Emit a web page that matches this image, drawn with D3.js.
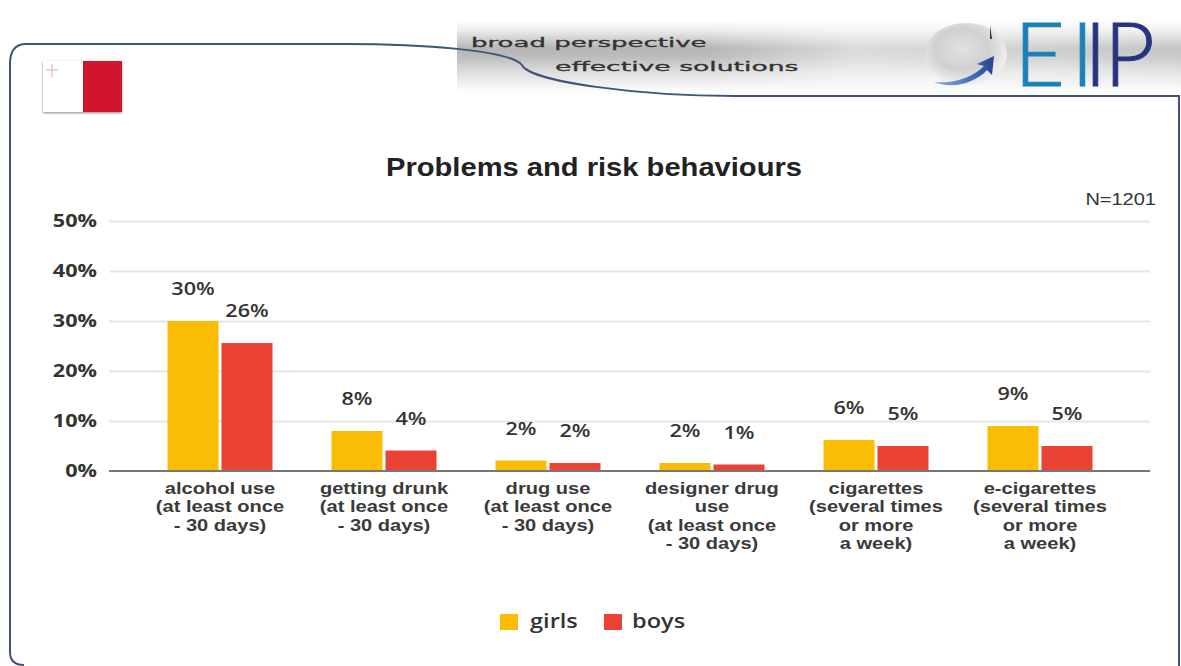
<!DOCTYPE html>
<html><head><meta charset="utf-8">
<script src="https://cdn.jsdelivr.net/npm/d3@7/dist/d3.min.js"></script>
<style>
html,body{margin:0;padding:0;background:#fff;}
svg{display:block;}
</style></head><body>
<svg id="c" width="1181" height="666"></svg>
<script>
const categories = [
  ["alcohol use","(at least once","- 30 days)"],
  ["getting drunk","(at least once","- 30 days)"],
  ["drug use","(at least once","- 30 days)"],
  ["designer drug","use","(at least once","- 30 days)"],
  ["cigarettes","(several times","or more","a week)"],
  ["e-cigarettes","(several times","or more","a week)"]
];
const girls = [30, 8, 2.1, 1.6, 6.2, 9];
const boys = [25.6, 4.1, 1.6, 1.3, 5, 5];
const girlsLabels = ["30%","8%","2%","2%","6%","9%"];
const boysLabels = ["26%","4%","2%","1%","5%","5%"];
const yTicks = [0,10,20,30,40,50];
const seriesNames = ["girls","boys"];
const colors = {girls:"#fbbc04", boys:"#ea4335"};
const font = "'Open Sans','Liberation Sans',sans-serif";
const ink = "#333";

function stretch(sel, f){
  sel.each(function(){
    const n = this.getComputedTextLength();
    d3.select(this).attr("textLength", n*f).attr("lengthAdjust","spacingAndGlyphs");
  });
  return sel;
}

const svg = d3.select("#c");
const defs = svg.append("defs");
const band = defs.append("linearGradient").attr("id","band").attr("x1",0).attr("x2",0).attr("y1",0).attr("y2",1);
[[0,"#fff"],[.14,"#ececec"],[.38,"#b6b6b6"],[.5,"#bdbdbd"],[.72,"#e0e0e0"],[.95,"#fbfbfb"],[1,"#fff"]].forEach(s=>band.append("stop").attr("offset",s[0]).attr("stop-color",s[1]));
const fadeL = defs.append("linearGradient").attr("id","fade");
[[0,"#fff",0],[.35,"#fff",0],[.55,"#fff",.5],[.8,"#fff",.35],[1,"#fff",.2]].forEach(s=>fadeL.append("stop").attr("offset",s[0]).attr("stop-color",s[1]).attr("stop-opacity",s[2]));
const sph = defs.append("radialGradient").attr("id","sph").attr("cx",.45).attr("cy",.42).attr("r",.6);
[[0,"#e2e2e4"],[.55,"#d0d0d2"],[.85,"#e8e8e8"],[1,"#f2f2f2"]].forEach(s=>sph.append("stop").attr("offset",s[0]).attr("stop-color",s[1]));
const arrowG = defs.append("linearGradient").attr("id","arrowG").attr("x1",0).attr("x2",1);
[[0,"#8fb4dc"],[.5,"#4f7fc0"],[1,"#23448f"]].forEach(s=>arrowG.append("stop").attr("offset",s[0]).attr("stop-color",s[1]));
const logoG = defs.append("linearGradient").attr("id","logoG").attr("gradientUnits","userSpaceOnUse").attr("x1",1000).attr("x2",1170).attr("y1",0).attr("y2",0);
[[0,"#1a80b6"],[.515,"#1a80b6"],[.515,"#27337f"],[1,"#27337f"]].forEach(s=>logoG.append("stop").attr("offset",s[0]).attr("stop-color",s[1]));
const sh = defs.append("filter").attr("id","sh").attr("x","-10%").attr("y","-10%").attr("width","120%").attr("height","125%");
sh.append("feDropShadow").attr("dx",0).attr("dy",1).attr("stdDeviation",1.3).attr("flood-color","#555").attr("flood-opacity",.7);

// header band
svg.append("rect").attr("x",457).attr("y",20).attr("width",724).attr("height",74).attr("fill","url(#band)");
svg.append("rect").attr("x",457).attr("y",20).attr("width",724).attr("height",74).attr("fill","url(#fade)");

stretch(svg.append("text").text("broad perspective").attr("x",471).attr("y",47).attr("font-family","'DejaVu Sans'").attr("font-size",12.5).attr("fill","#333").attr("stroke","#333").attr("stroke-width",.3),2.08);
stretch(svg.append("text").text("effective solutions").attr("x",555).attr("y",71).attr("font-family","'DejaVu Sans'").attr("font-size",12.5).attr("fill","#333").attr("stroke","#333").attr("stroke-width",.3),2.13);

// logo
svg.append("ellipse").attr("cx",966).attr("cy",54).attr("rx",41).attr("ry",31).attr("fill","url(#sph)");
svg.append("path").attr("fill","url(#arrowG)").attr("d","M934,82 C958,84 975,75 984,66 L977,64 L994,56 L992,75 L987,70 C976,82 954,90 934,82Z");
svg.append("path").attr("fill","#333").attr("d","M990,25 L992,39 L990,39Z");
const logoText = "EIIP";
const logoX = [1014,1071,1084,1104];
svg.append("text").text(logoText).attr("x",logoX.join(" ")).attr("y",86)
  .attr("font-family","Lato").attr("font-weight",300).attr("font-size",88)
  .attr("fill","url(#logoG)").attr("stroke","url(#logoG)").attr("stroke-width",1);

// frame
svg.append("path").attr("fill","none").attr("stroke","#3e5479").attr("stroke-width",2)
  .attr("d","M10,652 L10,64 Q10,44 26,44 L345,44 C420,44 510,50 522,65 C530,82 640,96 735,96 L1179,96 L1179,666");
svg.append("path").attr("fill","none").attr("stroke","#3e5479").attr("stroke-width",2)
  .attr("d","M10,652 Q10,665 24,665");

// flag
svg.append("rect").attr("x",43).attr("y",61).attr("width",79).attr("height",51).attr("fill","#fff").attr("filter","url(#sh)");
svg.append("rect").attr("x",83).attr("y",61).attr("width",39).attr("height",51).attr("fill","#cf142b");
svg.append("path").attr("fill","none").attr("stroke","#e3c6c9").attr("stroke-width",1.5).attr("d","M46,70H58M52,64V77");

// title
stretch(svg.append("text").text("Problems and risk behaviours").attr("x",594).attr("y",176).attr("text-anchor","middle")
  .attr("font-family","'Liberation Sans'").attr("font-weight",700).attr("font-size",25).attr("fill","#222"),1.165);
stretch(svg.append("text").text("N=1201").attr("x",1156).attr("y",205).attr("text-anchor","end")
  .attr("font-family","'Liberation Sans'").attr("font-size",16).attr("fill","#333"),1.25);

// scales
const y = d3.scaleLinear().domain([0,50]).range([471,221]);
const x0 = d3.scaleBand().domain(d3.range(categories.length)).range([138,1122]);
const x1 = d3.scaleBand().domain(seriesNames).range([0,105]).paddingInner(.0556);

// grid
const grid = svg.append("g").attr("transform","translate(109,0)")
  .call(d3.axisLeft(y).tickValues(yTicks.slice(1)).tickSize(-1041).tickFormat(""));
grid.select(".domain").remove();
grid.selectAll("line").attr("stroke","#e6e6e6").attr("stroke-width",2);

// y labels
stretch(svg.selectAll("text.yl").data(yTicks).join("text").attr("class","yl").text(d=>d+"%")
  .attr("x",97).attr("y",d=>y(d)+6).attr("text-anchor","end")
  .attr("font-family",font).attr("font-weight",700).attr("font-size",18).attr("fill",ink),1.2);

// bars and labels
const groups = [["girls",girls,girlsLabels],["boys",boys,boysLabels]];
groups.forEach(([name,vals,labs])=>{
  const off = (i)=>x0(i)+(x0.bandwidth()-105)/2+x1(name);
  svg.selectAll("rect.b"+name).data(vals).join("rect").attr("class","b"+name)
    .attr("x",(d,i)=>off(i)).attr("y",d=>y(d)).attr("width",x1.bandwidth()).attr("height",d=>y(0)-y(d)).attr("fill",colors[name]);
  stretch(svg.selectAll("text.l"+name).data(vals).join("text").attr("class","l"+name).text((d,i)=>labs[i])
    .attr("x",(d,i)=>off(i)+x1.bandwidth()/2).attr("y",d=>y(d)-26).attr("text-anchor","middle")
    .attr("font-family",font).attr("font-weight",600).attr("font-size",18).attr("fill",ink),1.2);
});

// baseline
svg.append("line").attr("x1",109).attr("x2",1150).attr("y1",471).attr("y2",471).attr("stroke","#777").attr("stroke-width",2);

// category labels
categories.forEach((lines,i)=>{
  stretch(svg.selectAll("text.c"+i).data(lines).join("text").attr("class","c"+i).text(d=>d)
    .attr("text-anchor","middle").attr("font-family","'Liberation Sans'").attr("font-weight",700).attr("font-size",15.8).attr("fill","#3a3a3a")
    .attr("x",x0(i)+x0.bandwidth()/2).attr("y",(d,j)=>494+j*18.3),1.27);
});

// legend
const lx = {girls:500,boys:604};
seriesNames.forEach(n=>{
  svg.append("rect").attr("x",lx[n]).attr("y",614).attr("width",18).attr("height",16).attr("fill",colors[n]);
  stretch(svg.append("text").text(n).attr("x",lx[n]+(n==="girls"?30:28)).attr("y",628)
    .attr("font-family",font).attr("font-weight",600).attr("font-size",19).attr("fill",ink),1.24);
});
</script>
</body></html>
